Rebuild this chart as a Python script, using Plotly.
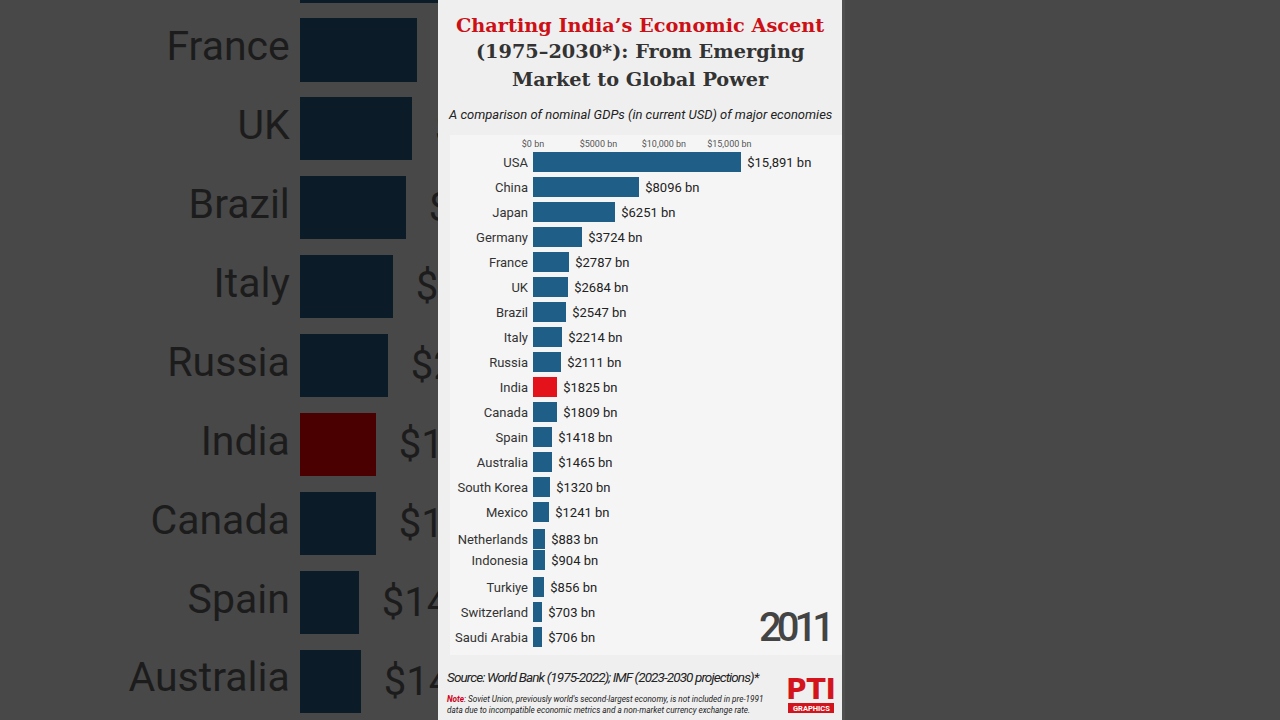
import plotly.graph_objects as go

# ---- data (frame: 2011) ----
countries = ["USA", "China", "Japan", "Germany", "France", "UK", "Brazil", "Italy",
             "Russia", "India", "Canada", "Spain", "Australia", "South Korea", "Mexico",
             "Netherlands", "Indonesia", "Turkiye", "Switzerland", "Saudi Arabia"]
gdp_bn = [15891, 8096, 6251, 3724, 2787, 2684, 2547, 2214, 2111, 1825, 1809, 1418,
          1465, 1320, 1241, 883, 904, 856, 703, 706]
# race position of each bar in this animation frame (Netherlands/Indonesia mid-swap)
rank = [1, 2, 3, 4, 5, 6, 7, 8, 9, 10, 11, 12, 13, 14, 15, 16.08, 16.92, 18, 19, 20]
year = "2011"
tick_vals = [0, 5000, 10000, 15000]
tick_text = ["$0 bn", "$5000 bn", "$10,000 bn", "$15,000 bn"]
highlight = "India"
title_lines = ["Charting India’s Economic Ascent", "(1975–2030*): From Emerging",
               "Market to Global Power"]


def fmt(v):
    return f"${v:,} bn" if v >= 10000 else f"${v} bn"


labels = [fmt(v) for v in gdp_bn]

BLUE = "#1f5f87"
RED = "#e3121b"
colors = [RED if c == highlight else BLUE for c in countries]
dark_colors = ["#4a0000" if c == highlight else "#0b1c28" for c in countries]

W, H = 1280, 720
def px(x):
    return x / W
def py(y):
    return 1 - y / H

fig = go.Figure()

# ---- blurred/zoomed background copy (left strip) ----
fig.add_trace(go.Bar(
    x=gdp_bn, y=rank, orientation="h", width=0.8,
    marker=dict(color=dark_colors, line=dict(width=0)),
    text=["\u00a0\u00a0" + t for t in labels], textposition="outside",
    textfont=dict(family="Roboto", size=40, color="#1c1c1c"),
    constraintext="none", cliponaxis=True,
    xaxis="x2", yaxis="y2", hoverinfo="skip", showlegend=False,
))
fig.add_trace(go.Scatter(
    x=[0] * len(countries), y=rank, mode="text",
    text=[c + "\u00a0" for c in countries], textposition="middle left",
    textfont=dict(family="Roboto", size=41, color="#1c1c1c"),
    cliponaxis=True, xaxis="x2", yaxis="y2", hoverinfo="skip", showlegend=False,
))

# ---- main chart ----
fig.add_trace(go.Bar(
    x=gdp_bn, y=rank, orientation="h", width=0.8,
    marker=dict(color=colors, line=dict(width=0)),
    text=["\u00a0" + t for t in labels], textposition="outside",
    textfont=dict(family="Roboto", size=13, color="#222222"),
    constraintext="none", cliponaxis=False, hoverinfo="skip", showlegend=False,
))

main_scale = 0.01309  # px per bn
left_scale = 0.0418

fig.update_layout(
    width=W, height=H, margin=dict(l=0, r=0, t=0, b=0, autoexpand=False),
    paper_bgcolor="#484848", plot_bgcolor="rgba(0,0,0,0)",
    bargap=0,
    xaxis=dict(domain=[px(533), px(842)], range=[0, 309 / main_scale], side="top",
               tickvals=tick_vals, ticktext=tick_text, showgrid=False, zeroline=False,
               showline=False, ticks="", automargin=False,
               tickfont=dict(family="Roboto", size=9, color="#555555"), fixedrange=True),
    yaxis=dict(domain=[py(650), py(150)], range=[20.52, 0.52], tickvals=rank,
               ticktext=countries, showgrid=False, zeroline=False, showline=False, ticks="",
               ticklabelstandoff=4, automargin=False,
               tickfont=dict(family="Roboto", size=13, color="#333333"), fixedrange=True),
    xaxis2=dict(domain=[0, px(438)], range=[-300 / left_scale, 138 / left_scale],
                visible=False, fixedrange=True),
    yaxis2=dict(domain=[0, 1], range=[5 + 670 / 78.9, 5 - 50 / 78.9], anchor="x2",
                visible=False, fixedrange=True),
)

# center panel background
fig.add_shape(type="rect", xref="paper", yref="paper", x0=px(438), x1=px(842), y0=0, y1=1,
              fillcolor="#efefef", line=dict(width=0), layer="below")
fig.add_shape(type="rect", xref="paper", yref="paper", x0=px(450), x1=px(842),
              y0=py(655), y1=py(135), fillcolor="#f5f5f5", line=dict(width=0), layer="below")
# right strip edge
fig.add_shape(type="rect", xref="paper", yref="paper", x0=px(842), x1=px(845), y0=0, y1=1,
              fillcolor="#4f4f4f", line=dict(width=0), layer="below")

# title (three lines)
for i, (line, ypos) in enumerate(zip(title_lines, [26, 52, 79])):
    fig.add_annotation(
        xref="paper", yref="paper", x=px(640), y=py(ypos), xanchor="center", yanchor="middle",
        text=line, showarrow=False,
        font=dict(family="DejaVu Serif", size=19.3, color="#cc1016" if i == 0 else "#333333",
                  weight="bold"),
    )
fig.add_annotation(
    xref="paper", yref="paper", x=px(640), y=py(114), xanchor="center", yanchor="middle",
    text="<i>A comparison of nominal GDPs (in current USD) of major economies</i>",
    showarrow=False, font=dict(family="Roboto", size=13, color="#222222"),
)
# year
fig.add_annotation(
    xref="paper", yref="paper", x=px(832), y=py(627), xanchor="right", yanchor="middle",
    text="<span style='letter-spacing:-5px'>" + year + "</span>", showarrow=False,
    font=dict(family="Roboto", size=40, color="#444444", weight=500),
)
# source & note
fig.add_annotation(
    xref="paper", yref="paper", x=px(445), y=py(677), xanchor="left", yanchor="middle",
    text="<span style='letter-spacing:-0.9px'><i>Source: World Bank (1975-2022); "
         "IMF (2023-2030 projections)*</i></span>",
    showarrow=False, font=dict(family="Roboto", size=13.5, color="#222222"),
)
fig.add_annotation(
    xref="paper", yref="paper", x=px(445), y=py(704), xanchor="left", yanchor="middle",
    text="<i><b><span style='color:#d0021b'>Note</span></b>: Soviet Union, previously world's "
         "second-largest economy, is not included in pre-1991<br>data due to incompatible "
         "economic metrics and a non-market currency exchange rate.</i>",
    showarrow=False, align="left", font=dict(family="Roboto", size=8.2, color="#222222"),
)
# PTI logo
fig.add_annotation(
    xref="paper", yref="paper", x=px(811), y=py(689), xanchor="center", yanchor="middle",
    text="<b>PTI</b>", showarrow=False,
    font=dict(family="DejaVu Sans", size=28, color="#d4141c"),
)
fig.add_shape(type="rect", xref="paper", yref="paper", x0=px(788), x1=px(834),
              y0=py(713), y1=py(703), fillcolor="#d4141c", line=dict(width=0))
fig.add_annotation(
    xref="paper", yref="paper", x=px(811), y=py(708), xanchor="center", yanchor="middle",
    text="<b>GRAPHICS</b>", showarrow=False,
    font=dict(family="Roboto", size=7.5, color="#ffffff"),
)

fig.write_html("out.html")
